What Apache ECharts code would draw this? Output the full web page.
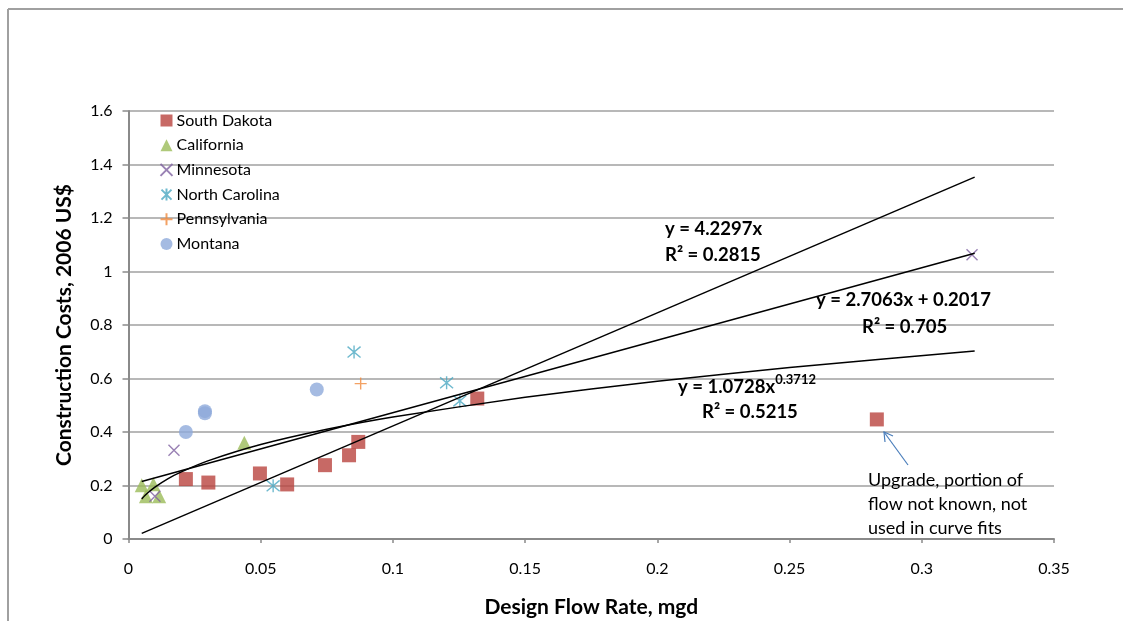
<!DOCTYPE html>
<html>
<head>
<meta charset="utf-8">
<script src="https://cdn.jsdelivr.net/npm/echarts@6/dist/echarts.min.js"></script>
<style>
  html, body { margin: 0; padding: 0; background: #fff; }
  #main { width: 1123px; height: 621px; }
</style>
</head>
<body>
<div id="main"></div>
<script>
// scatter points (flow mgd, cost)
const sdX = [0.0217, 0.0302, 0.0497, 0.0600, 0.0743, 0.0834, 0.0869, 0.1319, 0.283];
const sdY = [0.224, 0.211, 0.245, 0.204, 0.276, 0.313, 0.363, 0.525, 0.447];
const caX = [0.0050, 0.0094, 0.0066, 0.0116, 0.0438];
const caY = [0.201, 0.205, 0.160, 0.160, 0.360];
const mnX = [0.0100, 0.0172, 0.319];
const mnY = [0.160, 0.332, 1.063];
const ncX = [0.0547, 0.0853, 0.1203, 0.1253];
const ncY = [0.199, 0.699, 0.584, 0.516];
const paX = [0.0878];
const paY = [0.581];
const mtX = [0.0217, 0.0289, 0.0289, 0.0712];
const mtY = [0.400, 0.478, 0.470, 0.559];

// trendlines
const linX = [0.005, 0.32];
const lin1Y = [0.021, 1.353];
const lin2Y = [0.215, 1.068];
const powX = [0.005, 0.007, 0.01, 0.015, 0.02, 0.03, 0.05, 0.075, 0.1, 0.15, 0.2, 0.25, 0.32];
const powY = [0.150, 0.170, 0.194, 0.226, 0.251, 0.292, 0.353, 0.410, 0.456, 0.530, 0.590, 0.641, 0.703];

const xTicks = [0, 0.05, 0.1, 0.15, 0.2, 0.25, 0.3, 0.35];
const yTicks = [0, 0.2, 0.4, 0.6, 0.8, 1, 1.2, 1.4, 1.6];

const FONT = 'Lato';
const EQ_FONT = 'bold 18.5px ' + FONT;

function pairs(xs, ys) {
  return xs.map((x, i) => [x, ys[i]]);
}

var myChart = echarts.init(document.getElementById('main'), null, {
  width: 1123,
  height: 621,
});

function pointSeries(name, xs, ys, symbol, size, color, stroked) {
  return {
    name: name,
    type: 'scatter',
    symbol: symbol,
    symbolSize: size,
    itemStyle: stroked
      ? { color: 'none', borderColor: color, borderWidth: 1.4 }
      : { color: color },
    data: pairs(xs, ys),
    z: 3
  };
}

function trendSeries(xs, ys) {
  return {
    type: 'line',
    data: pairs(xs, ys),
    showSymbol: false,
    smooth: 0.2,
    silent: true,
    lineStyle: { color: '#000', width: 1.5 },
    z: 4
  };
}

const X_PATH = 'path://M0,0L10,10M10,0L0,10';
const STAR_PATH = 'path://M0,0L10,10M10,0L0,10M5,-1L5,11';
const PLUS_PATH = 'path://M5,0L5,10M0,5L10,5';

let option = {
  animation: false,
  grid: {
    left: 128.5,
    right: 69,
    top: 111,
    bottom: 82,
    containLabel: false,
    outerBoundsMode: 'none'
  },
  legend: {
    orient: 'vertical',
    left: 158,
    top: 112,
    padding: 0,
    itemWidth: 12,
    itemHeight: 12,
    itemGap: 7.7,
    textStyle: { color: '#000', fontFamily: FONT, fontSize: 16, lineHeight: 17, padding: [0, 0, 0, -1] },
    data: ['South Dakota', 'California', 'Minnesota', 'North Carolina', 'Pennsylvania', 'Montana']
  },
  xAxis: {
    type: 'value',
    min: 0,
    max: 0.35,
    interval: 0.05,
    name: 'Design Flow Rate, mgd',
    nameLocation: 'middle',
    nameGap: 58,
    nameTextStyle: { color: '#000', fontFamily: FONT, fontSize: 21, fontWeight: 'bold' },
    axisLine: { show: true, lineStyle: { color: '#8a8a8a', width: 2 } },
    axisTick: { show: true, length: 4, lineStyle: { color: '#8a8a8a', width: 1.5 } },
    axisLabel: {
      color: '#000', fontFamily: FONT, fontSize: 16, margin: 22,
      formatter: v => xTicks.includes(+v.toFixed(2)) ? String(+v.toFixed(2)) : ''
    },
    splitLine: { show: false }
  },
  yAxis: {
    type: 'value',
    min: 0,
    max: 1.6,
    interval: 0.2,
    name: 'Construction Costs, 2006 US$',
    nameLocation: 'middle',
    nameGap: 54,
    nameTextStyle: { color: '#000', fontFamily: FONT, fontSize: 21, fontWeight: 'bold' },
    axisLine: { show: true, lineStyle: { color: '#8a8a8a', width: 2 } },
    axisTick: { show: true, length: 6, lineStyle: { color: '#8a8a8a', width: 1.5 } },
    axisLabel: {
      color: '#000', fontFamily: FONT, fontSize: 16, margin: 16,
      formatter: v => yTicks.includes(+v.toFixed(1)) ? String(+v.toFixed(1)) : ''
    },
    splitLine: { show: true, lineStyle: { color: '#a0a0a0', width: 1.5 } }
  },
  series: [
    pointSeries('South Dakota', sdX, sdY, 'rect', 14, '#b9443f', false),
    pointSeries('California', caX, caY, 'triangle', 14, '#9bbb59', false),
    pointSeries('Minnesota', mnX, mnY, X_PATH, 11, '#7f62a1', true),
    pointSeries('North Carolina', ncX, ncY, STAR_PATH, 13, '#4aa8c2', true),
    pointSeries('Pennsylvania', paX, paY, PLUS_PATH, 12, '#f08a3c', true),
    pointSeries('Montana', mtX, mtY, 'circle', 14, '#8eaadb', false),
    trendSeries(linX, lin1Y),
    trendSeries(linX, lin2Y),
    trendSeries(powX, powY)
  ],
  graphic: [
    // outer frame
    { type: 'line', shape: { x1: 8, y1: 9, x2: 1123, y2: 9 }, style: { stroke: '#a0a0a0', lineWidth: 2 }, silent: true },
    { type: 'line', shape: { x1: 8, y1: 9, x2: 8, y2: 621 }, style: { stroke: '#a0a0a0', lineWidth: 2 }, silent: true },
    // equations
    { type: 'text', left: 665, top: 220, z: 10, style: { text: 'y = 4.2297x', font: EQ_FONT, fill: '#000' } },
    { type: 'text', left: 665, top: 246, z: 10, style: { text: 'R² = 0.2815', font: EQ_FONT, fill: '#000' } },
    { type: 'text', left: 816, top: 291, z: 10, style: { text: 'y = 2.7063x + 0.2017', font: EQ_FONT, fill: '#000' } },
    { type: 'text', left: 862, top: 318, z: 10, style: { text: 'R² = 0.705', font: EQ_FONT, fill: '#000' } },
    {
      type: 'text', left: 678, top: 373, z: 10,
      style: {
        text: '{m|y = 1.0728x}{s|0.3712}',
        rich: {
          m: { font: EQ_FONT, fill: '#000', lineHeight: 24, verticalAlign: 'bottom' },
          s: { font: 'bold 13px ' + FONT, fill: '#000', lineHeight: 14, verticalAlign: 'top' }
        }
      }
    },
    { type: 'text', left: 702, top: 403, z: 10, style: { text: 'R² = 0.5215', font: EQ_FONT, fill: '#000' } },
    // annotation
    { type: 'line', shape: { x1: 908, y1: 465, x2: 884, y2: 432 }, style: { stroke: '#4a7ebb', lineWidth: 1.2 }, z: 10 },
    { type: 'polyline', shape: { points: [[885, 442], [884, 432], [893, 436]] }, style: { stroke: '#4a7ebb', lineWidth: 1.2, fill: null }, z: 10 },
    { type: 'text', left: 868, top: 468, z: 10, style: { text: 'Upgrade, portion of\nflow not known, not\nused in curve fits', font: '18px ' + FONT, lineHeight: 24, fill: '#000' } }
  ]
};

myChart.setOption(option);
</script>
</body>
</html>
